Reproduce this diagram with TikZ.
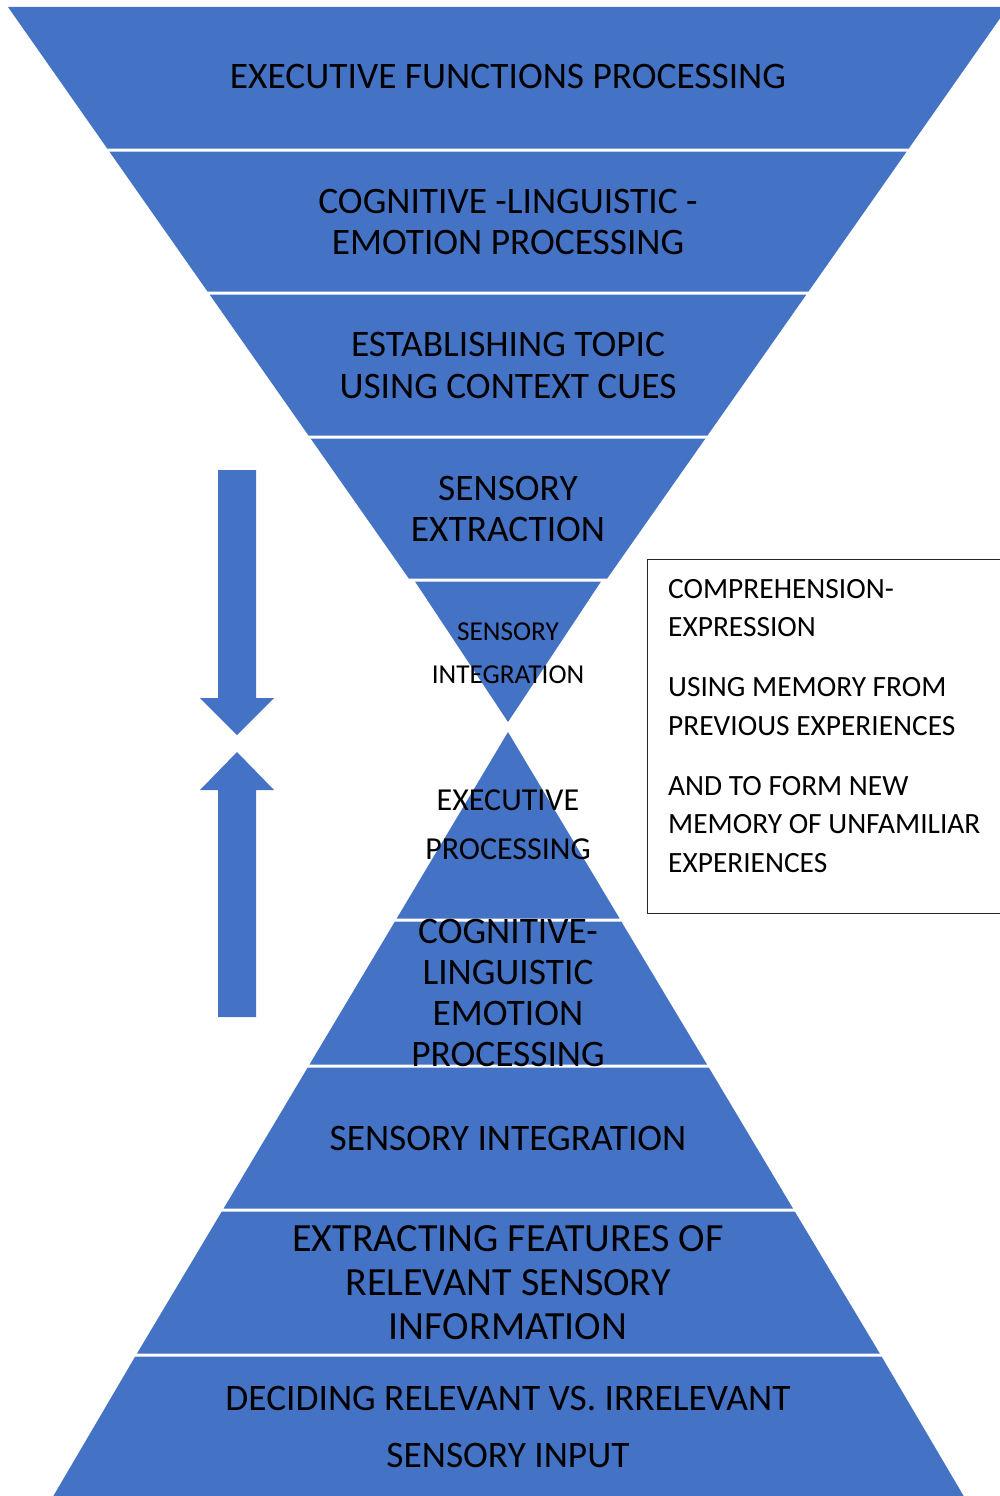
\documentclass[tikz,border=0pt]{standalone}
\usepackage{fontspec}
\setmainfont{Carlito}
\definecolor{obl}{HTML}{4472C4}
\begin{document}
\begin{tikzpicture}[x=1pt,y=-1pt,
  band/.style={fill=obl},
  lbl/.style={font=\fontsize{37.4}{41}\selectfont, align=center, inner sep=0pt, text=black},
  boxtxt/.style={font=\fontsize{29.4}{38.5}\selectfont, align=left, inner sep=0pt, text=black}]
\useasboundingbox (0,0) rectangle (1000,1496);
\begin{scope}
\clip (0,0) rectangle (1000,1496);
% top funnel bands
\fill[band] (8,7) -- (1008,7) -- (908.8,148.5) -- (107.2,148.5) -- cycle;
\fill[band] (109.3,151.5) -- (906.7,151.5) -- (808.5,291.5) -- (207.5,291.5) -- cycle;
\fill[band] (209.6,294.5) -- (806.4,294.5) -- (707.5,435.5) -- (308.5,435.5) -- cycle;
\fill[band] (310.6,438.5) -- (705.4,438.5) -- (607.2,578.5) -- (408.8,578.5) -- cycle;
\fill[band] (415,581.5) -- (601,581.5) -- (508,722) -- cycle;
% bottom pyramid bands
\fill[band] (508,732) -- (619.6,918.5) -- (396.7,918.5) -- cycle;
\fill[band] (394.9,921.5) -- (621.3,921.5) -- (707.0,1064.5) -- (309.5,1064.5) -- cycle;
\fill[band] (307.7,1067.5) -- (708.8,1067.5) -- (793.0,1208.5) -- (223.6,1208.5) -- cycle;
\fill[band] (221.8,1211.5) -- (794.8,1211.5) -- (879.8,1353.5) -- (137.0,1353.5) -- cycle;
\fill[band] (135.2,1356.5) -- (881.6,1356.5) -- (966,1500) -- (51,1500) -- cycle;
% arrows
\fill[band] (218,470) -- (256,470) -- (256,698) -- (274,698) -- (237,735) -- (200,698) -- (218,698) -- cycle;
\fill[band] (237,752) -- (274,790) -- (256,790) -- (256,1017) -- (218,1017) -- (218,790) -- (200,790) -- cycle;
% text box frame
\node[draw=black!85, line width=1.2pt, minimum width=370pt, minimum height=354pt, anchor=north west, inner sep=0pt] (box) at (647,559) {};
\end{scope}
% labels
\node[lbl] (t1) at (508,77) {EXECUTIVE FUNCTIONS PROCESSING};
\node[lbl] (t2) at (508,221.5) {COGNITIVE -LINGUISTIC -\\EMOTION PROCESSING};
\node[lbl, font=\fontsize{37.4}{42}\selectfont] (t3) at (508,365) {ESTABLISHING TOPIC\\USING CONTEXT CUES};
\node[lbl] (t4) at (508,508.5) {SENSORY\\EXTRACTION};
\node[lbl, font=\fontsize{27.3}{43}\selectfont] (t5) at (508,653.5) {SENSORY\\INTEGRATION};
\node[lbl, font=\fontsize{32}{49}\selectfont] (b1) at (508,824.5) {EXECUTIVE\\PROCESSING};
\node[lbl] (b2) at (508,992.5) {COGNITIVE-\\LINGUISTIC\\EMOTION\\PROCESSING};
\node[lbl] (b3) at (508,1138) {SENSORY INTEGRATION};
\node[lbl, font=\fontsize{40}{44}\selectfont] (b4) at (508,1283) {EXTRACTING FEATURES OF\\RELEVANT SENSORY\\INFORMATION};
\node[lbl, font=\fontsize{37.4}{57}\selectfont] (b5) at (508,1426.5) {DECIDING RELEVANT VS. IRRELEVANT\\SENSORY INPUT};
\node[boxtxt, anchor=west] (bt) at (668,726) {COMPREHENSION-\\EXPRESSION\\[21.5pt]USING MEMORY FROM\\PREVIOUS EXPERIENCES\\[21.5pt]AND TO FORM NEW\\MEMORY OF UNFAMILIAR\\EXPERIENCES};
\end{tikzpicture}
\end{document}
